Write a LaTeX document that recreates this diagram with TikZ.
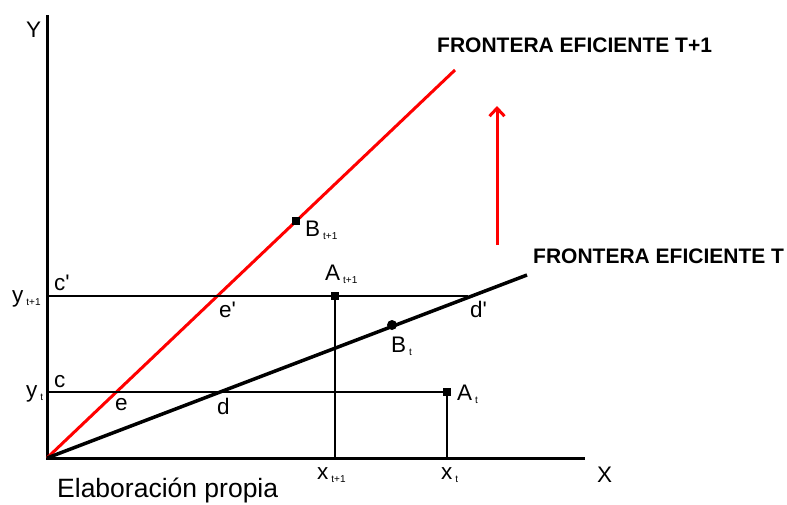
\documentclass[tikz,border=0pt]{standalone}
\usepackage{fontspec}
\setmainfont{Liberation Sans}
\usetikzlibrary{positioning,
                arrows.meta}                % arrow tips

\newcommand{\lowidx}[1]{\hspace{3pt}\raisebox{-3pt}{\fontsize{10}{10}\selectfont #1}}
\newcommand{\pr}{\textquotesingle}

\begin{document}
\begin{tikzpicture}[x=1pt, y=-1pt,
        lbl/.style={inner sep=0pt, anchor=base west, font=\fontsize{22.5}{22.5}\selectfont},
        ttl/.style={inner sep=0pt, anchor=west, font=\bfseries\fontsize{21}{21}\selectfont},
        mark box/.style={rectangle, fill=black, inner sep=0pt, minimum size=8pt},
        guide/.style={line width=1.1pt},
        axis/.style={line width=3pt}]
                \useasboundingbox (0,0) rectangle (787,504);

                % points
                \coordinate (O) at (47,458);
                \coordinate (ytop) at (47,15);
                \coordinate (xend) at (585,458);
                \coordinate (redend) at (455,70);
                \coordinate (blkend) at (527,275);
                \coordinate (c) at (47,392);
                \coordinate (c1) at (47,296);
                \coordinate (dd) at (468,296);
                \coordinate (xt) at (447,458);
                \coordinate (xt1) at (335,458);
                \coordinate (arrlo) at (497,245);
                \coordinate (arrhi) at (497,106);

                % axes
                \draw[axis] (ytop) -- (O) -- (xend);
                \node[lbl] (ylab) at (26,37) {Y};
                \node[lbl] (xlab) at (597,482) {X};

                % frontiers
                \draw[red, line width=3pt] (O) -- (redend);
                \draw[line width=3.5pt] (O) -- (blkend);

                \node[mark box] (At) at (447,392) {};
                \node[mark box] (At1) at (335,296) {};
                \node[mark box] (Bt1) at (296,221) {};
                \node[circle, fill=black, inner sep=0pt, minimum size=10pt] (Bt) at (392,325) {};

                \draw[guide] (c) -- (At.center);
                \draw[guide] (c1) -- (dd);
                \draw[guide] (At1.center) -- (xt1);
                \draw[line width=2.5pt] (At.center) -- (xt);

                \draw[red, line width=3pt, -{Straight Barb[length=8pt, width=15pt]}] (arrlo) -- (arrhi);

                % labels
                \node[lbl] (ytl) at (26,397) {y\lowidx{t}};
                \node[lbl] (yt1l) at (12,302) {y\lowidx{t+1}};
                \node[lbl] (cl) at (54,387) {c};
                \node[lbl] (c1l) at (54,290) {c\pr};
                \node[lbl] (el) at (115,410) {e};
                \node[lbl] (e1l) at (219,317) {e\pr};
                \node[lbl] (dl) at (217,414) {d};
                \node[lbl] (d1l) at (470,317) {d\pr};
                \node[lbl] (Atl) at (457,400) {A\lowidx{t}};
                \node[lbl] (At1l) at (325,280) {A\lowidx{t+1}};
                \node[lbl] (Btl) at (391,352) {B\lowidx{t}};
                \node[lbl] (Bt1l) at (305,236) {B\lowidx{t+1}};
                \node[lbl] (xtl) at (441,479) {x\lowidx{t}};
                \node[lbl] (xt1l) at (317,479) {x\lowidx{t+1}};

                \node[ttl] (fr1) at (437,45) {FRONTERA EFICIENTE T+1};
                \node[ttl] (fr0) at (533,256) {FRONTERA EFICIENTE T};
                \node[inner sep=0pt, anchor=base west, font=\fontsize{26.5}{26.5}\selectfont] (src) at (57,497) {Elaboración propia};

        \end{tikzpicture}
\end{document}
